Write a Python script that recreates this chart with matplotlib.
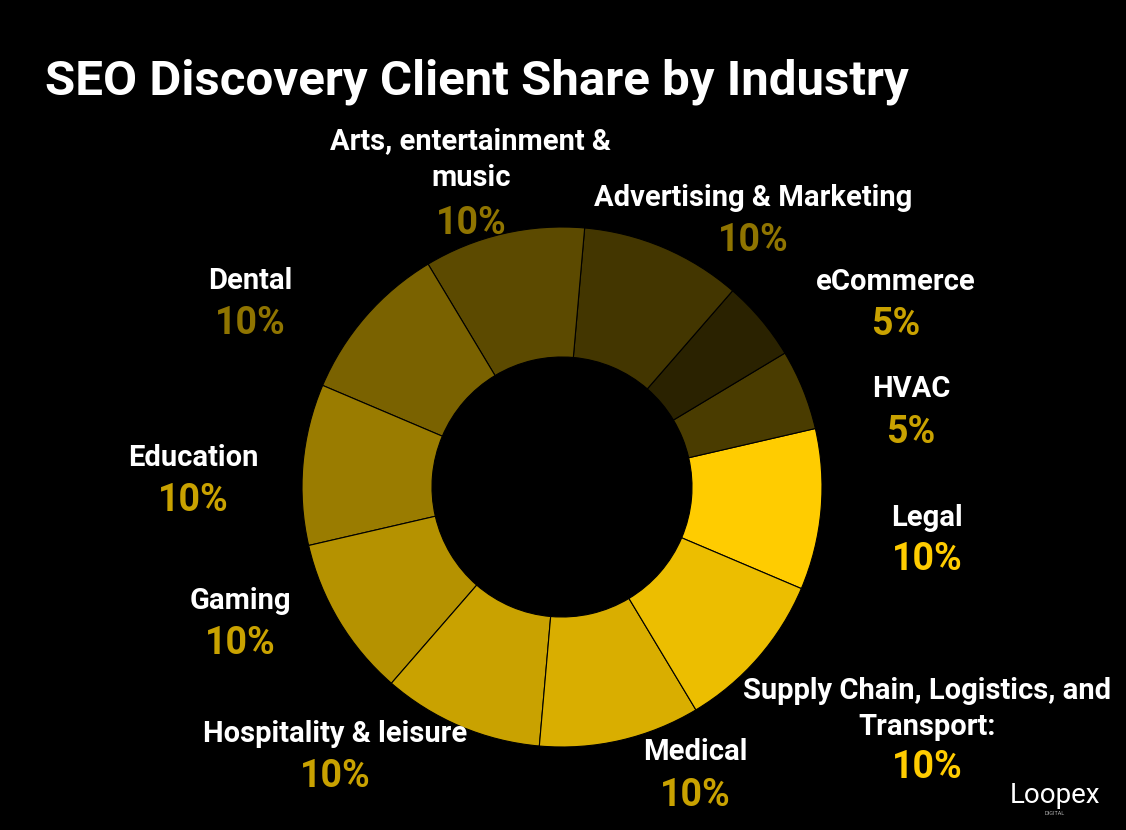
import matplotlib
matplotlib.use("Agg")
import matplotlib.pyplot as plt

categories = ["Legal", "HVAC", "eCommerce", "Advertising & Marketing", "Arts, entertainment &\nmusic",
              "Dental", "Education", "Gaming", "Hospitality & leisure", "Medical",
              "Supply Chain, Logistics, and\nTransport:"]
values = [10, 5, 5, 10, 10, 10, 10, 10, 10, 10, 10]
colors = ["#FFCC00", "#4A3C00", "#2A2200", "#433600", "#5C4A00", "#7A6200",
          "#9A7C00", "#B59200", "#C9A200", "#D9AE00", "#ECBE00"]
pct_colors = ["#FFCC00", "#C9A200", "#C9A200", "#8F7400", "#8F7400", "#8F7400",
              "#C9A200", "#C9A200", "#C9A200", "#C9A200", "#FFCC00"]
label_pos = [(927, 518, 560), (911, 389, 432), (896, 282, 324), (753, 198, 240),
             (471, 160, 223), (250, 281, 323), (193, 458, 500), (240, 601, 644),
             (335, 734, 776), (695, 752, 795), (927, 709, 767)]

W, H = 1126, 830
fig = plt.figure(figsize=(W/100, H/100), dpi=100, facecolor="black")
cx, cy, r = 562, 487, 260
ax = fig.add_axes([(cx-r)/W, (H-cy-r)/H, 2*r/W, 2*r/H])
ax.set_facecolor("black")
ax.pie(values, colors=colors, startangle=-23, counterclock=True,
       wedgeprops=dict(width=0.5, edgecolor="black", linewidth=0.8))
ax.set_xlim(-1, 1); ax.set_ylim(-1, 1); ax.axis("off")

fam = ["Roboto", "DejaVu Sans"]
fig.text(45/W, 1-82/H, "SEO Discovery Client Share by Industry", color="white",
         fontsize=35.5, fontweight="bold", family=fam, va="center", ha="left")
for name, v, pc, (x, ny, py) in zip(categories, values, pct_colors, label_pos):
    fig.text(x/W, 1-ny/H, name, color="white", fontsize=21, fontweight="bold",
             family=fam, ha="center", va="center", linespacing=1.4)
    fig.text(x/W, 1-py/H, f"{v}%", color=pc, fontsize=27, fontweight="bold",
             family=fam, ha="center", va="center")
fig.text(1055/W, 1-795/H, "Loopex", color="white", fontsize=20, family=fam,
         ha="center", va="center")
fig.text(1055/W, 1-813/H, "DIGITAL", color="#aaaaaa", fontsize=4, family=fam,
         ha="center", va="center")
fig.savefig("out.png", dpi=100, facecolor="black")
